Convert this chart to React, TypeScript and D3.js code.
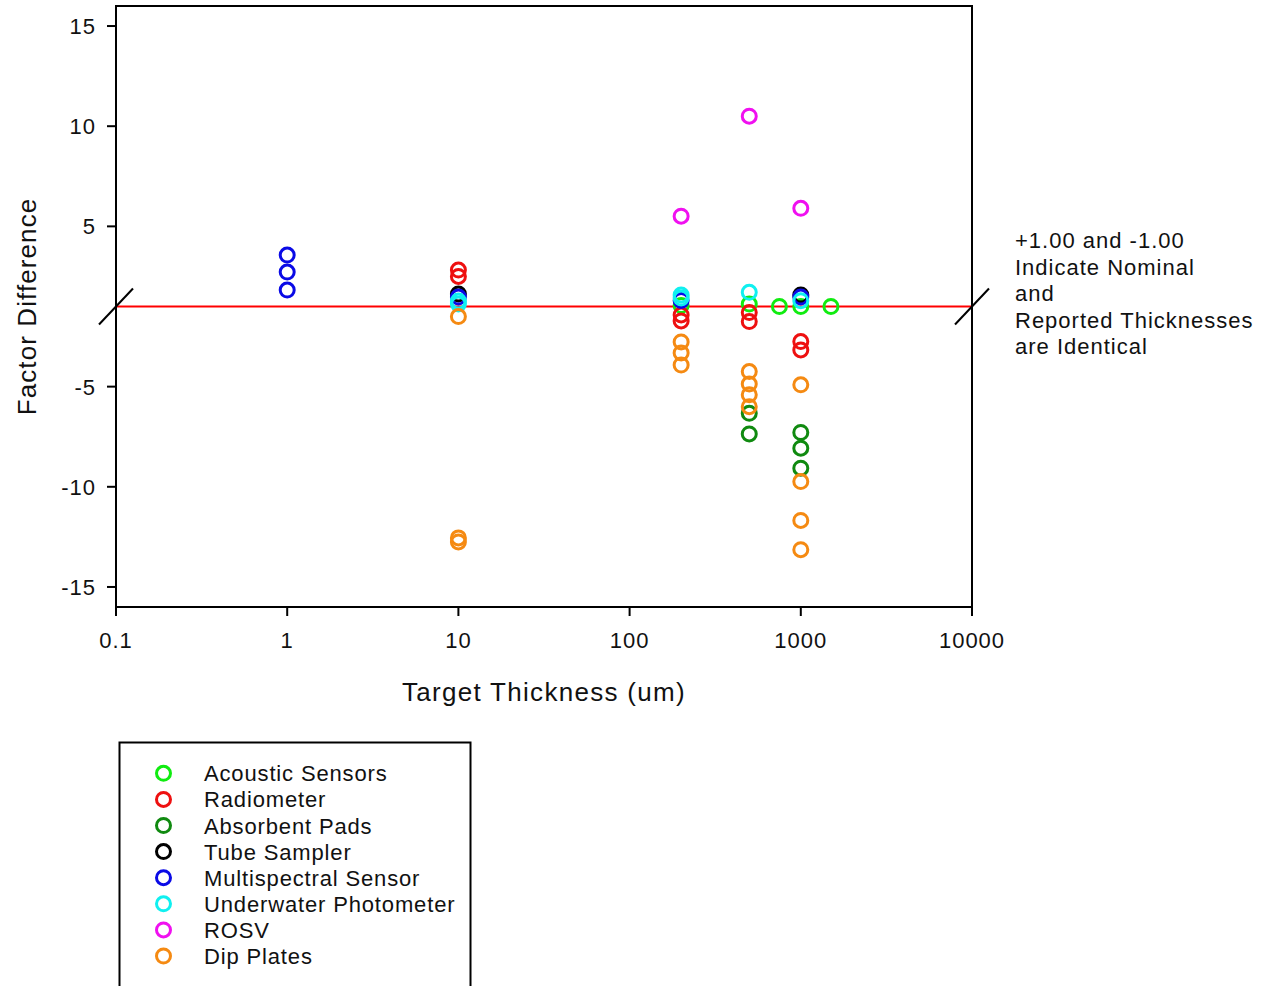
import React from "react";
import * as d3 from "d3";

// ---- data ----
const seriesNames = [
  "Acoustic Sensors",
  "Radiometer",
  "Absorbent Pads",
  "Tube Sampler",
  "Multispectral Sensor",
  "Underwater Photometer",
  "ROSV",
  "Dip Plates",
];
const seriesColors = ["#10ec10", "#ee1010", "#108a10", "#000000", "#0a0ae6", "#10f0f0", "#f010f0", "#f58a12"];

const acoustic: [number, number][] = [[200, 1.05], [500, 1.12], [750, 1.0], [1000, 1.0], [1500, 1.0]];
const radiometer: [number, number][] = [[10, 2.82], [10, 2.5], [200, -1.42], [200, -1.72], [500, -1.3], [500, -1.75], [1000, -2.75], [1000, -3.17]];
const absorbent: [number, number][] = [[500, -6.33], [500, -7.36], [1000, -7.29], [1000, -8.07], [1000, -9.07]];
const tubeSampler: [number, number][] = [[10, 1.62], [1000, 1.57]];
const multispectral: [number, number][] = [[1, 3.57], [1, 2.72], [1, 1.82], [10, 1.47], [200, 1.3], [1000, 1.47]];
const photometer: [number, number][] = [[10, 1.27], [10, 1.12], [200, 1.57], [200, 1.42], [500, 1.71], [1000, 1.29]];
const rosv: [number, number][] = [[200, 5.51], [500, 10.5], [1000, 5.9]];
const dipPlates: [number, number][] = [
  [10, -1.5], [10, -12.55], [10, -12.75],
  [200, -2.77], [200, -3.32], [200, -3.92],
  [500, -4.25], [500, -4.87], [500, -5.41], [500, -6.0],
  [1000, -4.91], [1000, -9.74], [1000, -11.68], [1000, -13.14],
];
const allSeries = [acoustic, radiometer, absorbent, tubeSampler, multispectral, photometer, rosv, dipPlates];

const xTicks = [0.1, 1, 10, 100, 1000, 10000];
const xTickLabels = ["0.1", "1", "10", "100", "1000", "10000"];
const yTicks = [-15, -10, -5, 5, 10, 15];
const noteLines = ["+1.00 and -1.00", "Indicate Nominal", "and", "Reported Thicknesses", "are Identical"];

// ---- layout ----
const W = 1265, H = 986;
const L = 116, R = 972, T = 6, B = 607;
const FONT = "'Liberation Sans', Arial, sans-serif";

// broken axis: values between -1 and +1 are removed
const fold = (v: number) => (v > 0 ? v - 1 : v + 1);

export default function App() {
  const x = d3.scaleLog().domain([0.1, 10000]).range([L, R]);
  const y = d3.scaleLinear().domain([-15, 15]).range([B, T]);
  const y0 = y(0);
  const r = 7;
  const sw = 3;

  return (
    <svg width={W} height={H} style={{ position: "absolute", left: 0, top: 0, background: "#fff" }} fontFamily={FONT}>
      <rect x={0} y={0} width={W} height={H} fill="#fff" />
      {/* reference line */}
      <line x1={L} x2={R} y1={y0} y2={y0} stroke="#ff0000" strokeWidth={2} />
      {/* points */}
      {allSeries.map((s, i) =>
        s.map((d, j) => (
          <circle key={`${i}-${j}`} cx={x(d[0])} cy={y(fold(d[1]))} r={r} fill="none" stroke={seriesColors[i]} strokeWidth={sw} />
        ))
      )}
      {/* frame */}
      <rect x={L} y={T} width={R - L} height={B - T} fill="none" stroke="#000" strokeWidth={2} />
      {/* break marks */}
      <line x1={L - 17} y1={y0 + 18} x2={L + 17} y2={y0 - 18} stroke="#000" strokeWidth={2} />
      <line x1={R - 17} y1={y0 + 18} x2={R + 17} y2={y0 - 18} stroke="#000" strokeWidth={2} />
      {/* y ticks */}
      {yTicks.map((v) => (
        <g key={v}>
          <line x1={L - 9} x2={L} y1={y(fold(v))} y2={y(fold(v))} stroke="#000" strokeWidth={2} />
          <text x={96} y={y(fold(v)) + 8} textAnchor="end" fontSize={22} letterSpacing={1} fill="#111">{v}</text>
        </g>
      ))}
      {/* x ticks */}
      {xTicks.map((v, i) => (
        <g key={v}>
          <line x1={x(v)} x2={x(v)} y1={B} y2={B + 9} stroke="#000" strokeWidth={2} />
          <text x={x(v)} y={648} textAnchor="middle" fontSize={22} letterSpacing={1} fill="#111">{xTickLabels[i]}</text>
        </g>
      ))}
      {/* axis titles */}
      <text x={(L + R) / 2} y={701} textAnchor="middle" fontSize={26} letterSpacing={1.3} fill="#111">Target Thickness (um)</text>
      <text transform={`translate(36,${y0}) rotate(-90)`} textAnchor="middle" fontSize={26} letterSpacing={1.1} fill="#111">Factor Difference</text>
      {/* note */}
      {noteLines.map((t, i) => (
        <text key={i} x={1015} y={248 + i * 26.5} fontSize={22} letterSpacing={1} fill="#111">{t}</text>
      ))}
      {/* legend */}
      <rect x={119.5} y={742.5} width={351} height={300} fill="none" stroke="#000" strokeWidth={2} />
      {seriesNames.map((n, i) => (
        <g key={n}>
          <circle cx={163.5} cy={773.3 + i * 26.1} r={r} fill="none" stroke={seriesColors[i]} strokeWidth={sw} />
          <text x={204} y={773.3 + i * 26.1 + 8} fontSize={22} letterSpacing={0.85} fill="#111">{n}</text>
        </g>
      ))}
    </svg>
  );
}
